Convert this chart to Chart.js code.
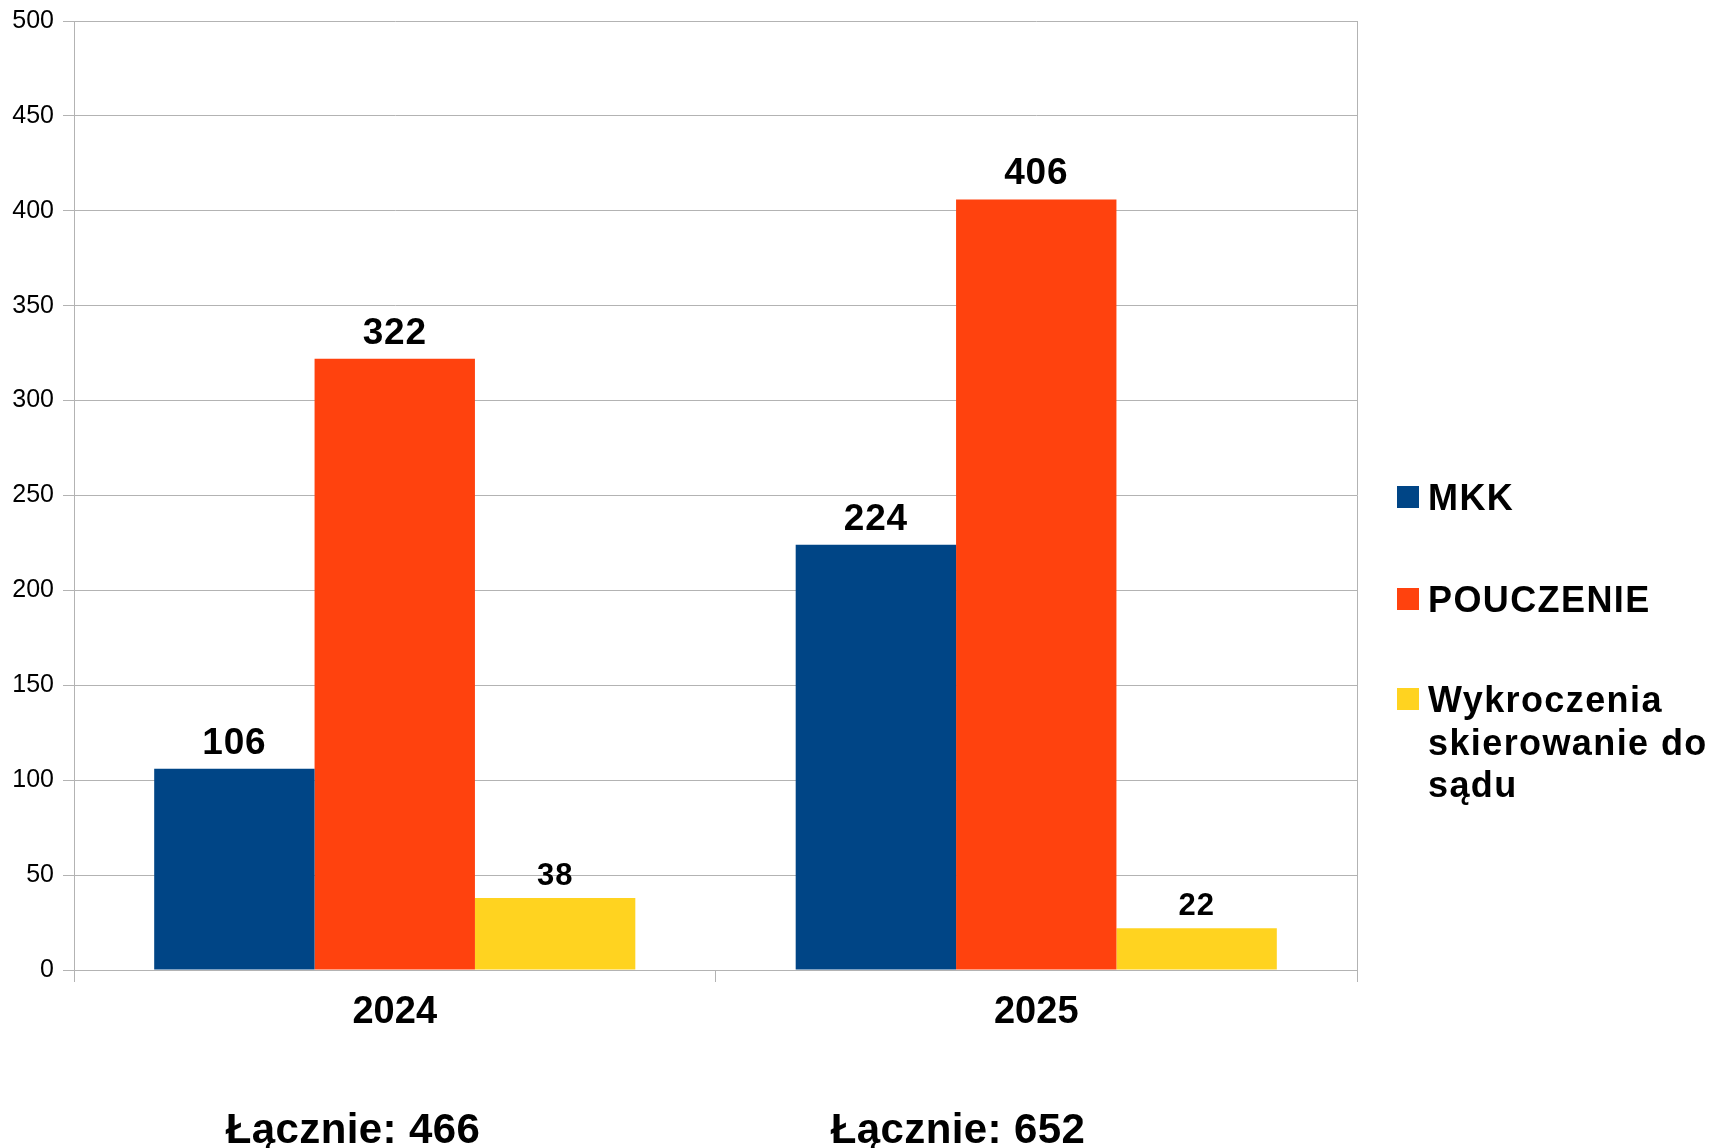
<!DOCTYPE html>
<html>
<head>
<meta charset="utf-8">
<script src="https://cdn.jsdelivr.net/npm/chart.js@4"></script>
<style>
html,body{margin:0;padding:0;background:#fff;}
canvas{display:block;}
</style>
</head>
<body>
<canvas id="c" width="1709" height="1148"></canvas>
<script>
const categories = ['2024', '2025'];
const seriesNames = ['MKK', 'POUCZENIE', 'Wykroczenia skierowanie do sądu'];
const legendLines = [['MKK'], ['POUCZENIE'], ['Wykroczenia', 'skierowanie do', 'sądu']];
const mkk = [106, 224];
const pouczenie = [322, 406];
const wykroczenia = [38, 22];
const yTicks = [0, 50, 100, 150, 200, 250, 300, 350, 400, 450, 500];
const totalLabel = 'Łącznie: ';
const colors = ['#004586', '#ff420e', '#ffd320'];

const FONT = "'Liberation Sans', Arial, sans-serif";
Chart.defaults.font.family = FONT;

const GRID = '#b3b3b3';

const extrasPlugin = {
  id: 'extras',
  afterDatasetsDraw(chart) {
    const ctx = chart.ctx;
    ctx.save();
    ctx.fillStyle = '#000';
    ctx.textAlign = 'center';
    ctx.textBaseline = 'alphabetic';
    ctx.letterSpacing = '0.8px';
    chart.data.datasets.forEach((ds, i) => {
      const meta = chart.getDatasetMeta(i);
      const small = i === 2;
      ctx.font = 'bold ' + (small ? 31 : 37) + 'px ' + FONT;
      meta.data.forEach((el, j) => {
        ctx.fillText(String(ds.data[j]), el.x, el.y - (small ? 13 : 15));
      });
    });
    ctx.restore();
  },
  afterDraw(chart) {
    const ctx = chart.ctx;
    ctx.save();
    const boxX = 1397, box = 22, textX = 1428;
    const firstBaselines = [510, 612, 712];
    const lineH = 42.5;
    ctx.font = 'bold 36px ' + FONT;
    ctx.letterSpacing = '1.4px';
    ctx.textAlign = 'left';
    ctx.textBaseline = 'alphabetic';
    chart.data.datasets.forEach((ds, i) => {
      const b = firstBaselines[i];
      ctx.fillStyle = ds.backgroundColor;
      ctx.fillRect(boxX, b - 24, box, box);
      ctx.fillStyle = '#000';
      legendLines[i].forEach((ln, k) => ctx.fillText(ln, textX, b + k * lineH));
    });
    ctx.font = 'bold 42px ' + FONT;
    ctx.letterSpacing = '0.4px';
    ctx.textAlign = 'center';
    const totX = [353, 958];
    categories.forEach((c, j) => {
      const total = chart.data.datasets.reduce((s, ds) => s + ds.data[j], 0);
      ctx.fillText(totalLabel + total, totX[j], 1143);
    });
    ctx.restore();
  }
};

new Chart(document.getElementById('c'), {
  type: 'bar',
  data: {
    labels: categories,
    datasets: [
      { label: seriesNames[0], data: mkk, backgroundColor: colors[0] },
      { label: seriesNames[1], data: pouczenie, backgroundColor: colors[1] },
      { label: seriesNames[2], data: wykroczenia, backgroundColor: colors[2] }
    ]
  },
  options: {
    responsive: false,
    animation: false,
    layout: { padding: { left: 0, right: 352, top: 21, bottom: 0 } },
    datasets: { bar: { barPercentage: 1, categoryPercentage: 0.75, borderWidth: 0 } },
    plugins: { legend: { display: false }, tooltip: { enabled: false } },
    scales: {
      x: {
        grid: {
          offset: true,
          drawOnChartArea: true,
          color: (c) => (c.index === 1 ? 'rgba(0,0,0,0)' : GRID),
          tickColor: GRID,
          tickLength: 12,
          lineWidth: 1
        },
        border: { display: true, color: GRID },
        ticks: { font: { size: 38, weight: 'bold' }, color: '#000', padding: 8 },
        afterFit: (s) => { s.height = 178; }
      },
      y: {
        min: 0,
        max: 500,
        afterBuildTicks: (s) => { s.ticks = yTicks.map(v => ({ value: v })); },
        ticks: { font: { size: 25, lineHeight: 0.8 }, color: '#000', padding: 9 },
        grid: { color: GRID, tickLength: 11, lineWidth: 1 },
        border: { display: true, color: GRID },
        afterFit: (s) => { s.width = 74; }
      }
    }
  },
  plugins: [extrasPlugin]
});
</script>
</body>
</html>
